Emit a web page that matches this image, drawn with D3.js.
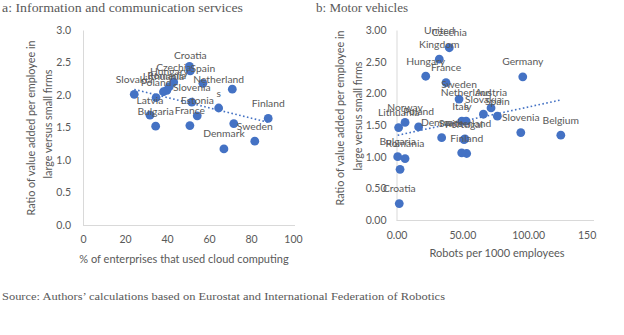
<!DOCTYPE html>
<html><head><meta charset="utf-8">
<script src="https://cdn.jsdelivr.net/npm/d3@7/dist/d3.min.js"></script>
<style>
html,body{margin:0;padding:0;background:#fff;}
svg{display:block;}
text{font-family:Lato,"Open Sans",sans-serif;fill:#595959;}
</style></head>
<body>
<svg id="c" width="624" height="335"></svg>
<script>
// ---- Panel a: Information and communication services ----
const ictNames = ["Slovakia","Poland","Latvia","Bulgaria","Czechia","Hungary","Romania","Lithuania","","Croatia","Spain","Slovenia","Netherland\ns","","Estonia","France","Finland","","Sweden","Denmark"];
const ictCloud = [24.4,34.8,31.9,34.6,43.2,41.1,39.9,38.3,50.7,51.1,57.1,51.8,64.6,71.1,54.4,50.9,88.2,71.8,81.8,67.1];
const ictRatio = [2.01,1.96,1.69,1.52,2.20,2.13,2.07,2.05,2.44,2.37,2.18,1.89,1.80,2.09,1.68,1.53,1.64,1.56,1.29,1.17];
const ictXTicks = [0,20,40,60,80,100];
const ictYTicks = [0,0.5,1,1.5,2,2.5,3];

// ---- Panel b: Motor vehicles ----
const motNames = ["Czechia","United\nKingdom","Hungary","France","Germany","Sweden","Italy","Netherland\ns","Slovakia","Austria","Spain","Slovenia","Belgium","Norway","Lithuania","Poland","Denmark","Portugal","Switzerland","Finland","","Bulgaria","Romania","","Croatia"];
const motRobots = [40.1,32.5,22.2,37.6,95.9,47.5,49.6,52.9,66.0,71.8,76.6,94.4,124.8,6.5,1.6,16.8,34.3,51.3,52.0,53.3,49.5,0.9,6.5,2.7,2.1];
const motRatio = [2.72,2.54,2.27,2.17,2.26,1.91,1.56,1.56,1.67,1.77,1.64,1.38,1.34,1.54,1.46,1.47,1.30,1.27,1.28,1.05,1.06,1.00,0.97,0.80,0.26];
const motXTicks = [0,50,100,150];
const motYTicks = [0,0.5,1,1.5,2,2.5,3];

const BLUE = "#4472C4";
const svg = d3.select("#c");

function fit(xs, ys){
  const mx=d3.mean(xs), my=d3.mean(ys);
  let sxy=0,sxx=0;
  xs.forEach((x,i)=>{sxy+=(x-mx)*(ys[i]-my);sxx+=(x-mx)*(x-mx);});
  const b=sxy/sxx; return {b, a:my-b*mx};
}

function panel(cfg){
  const g = svg.append("g");
  const x = d3.scaleLinear().domain(cfg.xDom).range(cfg.xRange);
  const y = d3.scaleLinear().domain([0,3]).range(cfg.yRange);
  // y axis
  const ya = g.append("g").attr("transform",`translate(${cfg.xRange[0]},0)`)
    .call(d3.axisLeft(y).tickValues(cfg.yTicks).tickSize(0).tickSizeOuter(0).tickPadding(cfg.yPad).tickFormat(d3.format(cfg.yFmt)));
  ya.select(".domain").attr("stroke","#d9d9d9");
  ya.selectAll("text").attr("font-size",10.5).attr("fill","#595959").style("font-family","Lato");
  // x axis
  const xa = g.append("g").attr("transform",`translate(0,${cfg.yRange[0]})`)
    .call(d3.axisBottom(x).tickValues(cfg.xTicks).tickSize(0).tickSizeOuter(0).tickPadding(cfg.xPad).tickFormat(d3.format(cfg.xFmt)));
  xa.select(".domain").attr("stroke","#d9d9d9").attr("d",`M${cfg.xRange[0]},0.5H${cfg.xRange[1]+cfg.xExt}`);
  xa.selectAll("text").attr("font-size",10.5).attr("fill","#595959").style("font-family","Lato");
  if(cfg.clip){
    const id="clip"+cfg.id;
    svg.append("clipPath").attr("id",id).append("rect").attr("x",0).attr("y",-20).attr("width",cfg.clip).attr("height",60);
    xa.attr("clip-path",`url(#${id})`);
  }
  // trend line
  const f = fit(cfg.xs, cfg.ys);
  const x0=d3.min(cfg.xs), x1=d3.max(cfg.xs);
  g.append("line").attr("x1",x(x0)).attr("y1",y(f.a+f.b*x0)).attr("x2",x(x1)).attr("y2",y(f.a+f.b*x1))
    .attr("stroke",BLUE).attr("stroke-width",1.6).attr("stroke-dasharray","1.6,2.4");
  // points
  g.selectAll("circle.p").data(cfg.xs).enter().append("circle")
    .attr("cx",(d)=>x(d)).attr("cy",(d,i)=>y(cfg.ys[i])).attr("r",4.4).attr("fill",BLUE);
  // labels
  cfg.names.forEach((n,i)=>{
    if(!n) return;
    const lines=n.split("\n");
    const t=g.append("text").attr("text-anchor","middle").attr("font-size",10.3)
      .attr("x",x(cfg.xs[i]));
    lines.forEach((ln,k)=>{
      t.append("tspan").attr("x",x(cfg.xs[i]))
       .attr("y",y(cfg.ys[i])-11.5-(lines.length-1-k)*13.5).text(ln);
    });
  });
  // y title
  cfg.yTitle.forEach((s,k)=>{
    g.append("text").attr("text-anchor","middle").attr("font-size",10.8)
      .attr("transform",`translate(${cfg.yTitleX[k]},${cfg.yTitleY[k]}) rotate(-90)`).text(s);
  });
  g.append("text").attr("text-anchor","middle").attr("font-size",11)
    .attr("x",cfg.xTitlePos[0]).attr("y",cfg.xTitlePos[1]).text(cfg.xTitle);
  svg.append("text").attr("x",cfg.titlePos[0]).attr("y",cfg.titlePos[1])
    .style("font-family","'Liberation Serif','Times New Roman',serif").attr("font-size",12).attr("fill","#000")
    .attr("textLength",cfg.titleLen).attr("lengthAdjust","spacingAndGlyphs").text(cfg.title);
}

const yTitleLines = ["Ratio of value added per employee in","large versus small firms"];

panel({id:"a", xs:ictCloud, ys:ictRatio, names:ictNames, xDom:[0,100], xRange:[83,293], yRange:[225,30],
  xTicks:ictXTicks, yTicks:ictYTicks, xFmt:"d", yFmt:".1f", xPad:11, yPad:12, xExt:2,
  yTitle:yTitleLines, yTitleX:[35,52], yTitleY:[128,124],
  xTitle:"% of enterprises that used cloud computing", xTitlePos:[184,263],
  title:"a: Information and communication services", titlePos:[2,12], titleLen:241});

panel({id:"b", xs:motRobots, ys:motRatio, names:motNames, xDom:[0,150], xRange:[396.5,594], yRange:[220,30],
  xTicks:motXTicks, yTicks:motYTicks, xFmt:".2f", yFmt:".2f", xPad:12, yPad:10, xExt:0, clip:597,
  yTitle:yTitleLines, yTitleX:[344,362], yTitleY:[118,116],
  xTitle:"Robots per 1000 employees", xTitlePos:[497,257],
  title:"b: Motor vehicles", titlePos:[316,12], titleLen:92});

svg.append("text").attr("x",2).attr("y",299.5)
  .style("font-family","'Liberation Serif','Times New Roman',serif").attr("font-size",10).attr("fill","#000")
  .attr("textLength",443).attr("lengthAdjust","spacingAndGlyphs")
  .text("Source: Authors’ calculations based on Eurostat and International Federation of Robotics");
</script>
</body></html>
